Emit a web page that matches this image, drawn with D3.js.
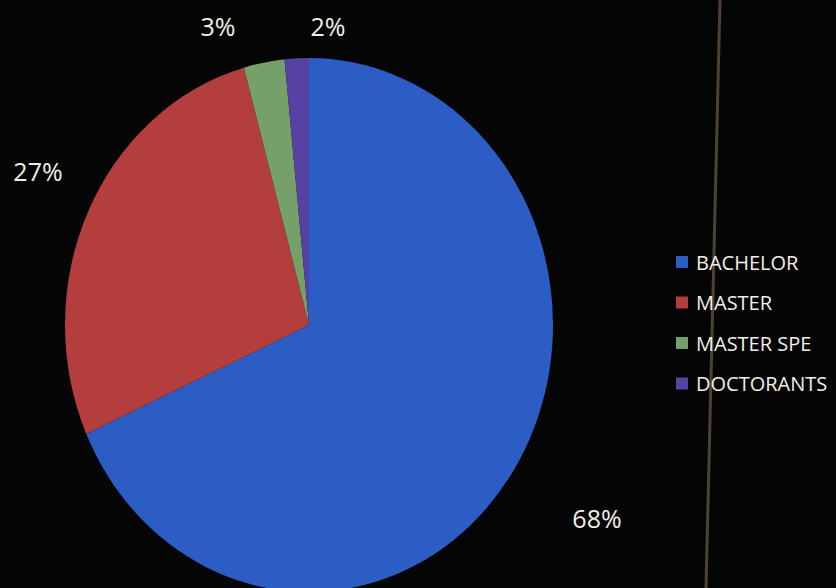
<!DOCTYPE html>
<html><head><meta charset="utf-8">
<script src="https://cdn.jsdelivr.net/npm/d3@7"></script>
<style>html,body{margin:0;padding:0;background:#050505;}svg{display:block;}</style>
</head><body>
<svg id="c" width="836" height="588"></svg>
<script>
const categories = ["BACHELOR", "MASTER", "MASTER SPE", "DOCTORANTS"];
const values = [68.3, 27.4, 2.7, 1.6];
const labels = ["68%", "27%", "3%", "2%"];
const colors = ["#2b5dc4", "#b43d3d", "#76a06a", "#5742a4"];

const svg = d3.select("#c");
svg.append("rect").attr("width", 836).attr("height", 588).attr("fill", "#050505");

// photo artifact vertical line
svg.append("line").attr("x1", 720).attr("y1", 0).attr("x2", 706).attr("y2", 588)
  .attr("stroke", "#4e4231").attr("stroke-width", 3);

const cx = 309, cy = 325, ry = 267, rx = 244;
const data = categories.map((c, i) => ({cat: c, v: values[i], label: labels[i], color: colors[i]}));
const pie = d3.pie().value(d => d.v).sort(null);
const arcs = pie(data);
const arc = d3.arc().innerRadius(0).outerRadius(ry);

const g = svg.append("g").attr("transform", `translate(${cx},${cy}) scale(${rx/ry},1)`);
g.selectAll("path").data(arcs).enter().append("path")
  .attr("d", arc).attr("fill", d => d.data.color);

const lp = [{x: 597, y: 518}, {x: 38, y: 171}, {x: 218, y: 26}, {x: 328, y: 26}];
svg.selectAll("text.lbl").data(arcs).enter().append("text").attr("class", "lbl")
  .attr("x", (d, i) => lp[i].x).attr("y", (d, i) => lp[i].y)
  .attr("text-anchor", "middle").attr("dominant-baseline", "central")
  .attr("font-family", "Open Sans, sans-serif").attr("font-size", 25)
  .attr("fill", "#f2efe6").text(d => d.data.label);

// legend
const leg = svg.append("g").attr("transform", "translate(676,262)");
const row = leg.selectAll("g").data(data).enter().append("g")
  .attr("transform", (d, i) => `translate(0,${i * 40.5})`);
row.append("rect").attr("x", 0).attr("y", -6).attr("width", 12).attr("height", 12).attr("fill", d => d.color);
row.append("text").attr("x", 20).attr("y", 0).attr("dominant-baseline", "central")
  .attr("font-family", "Open Sans, sans-serif").attr("font-size", 20)
  .attr("fill", "#f2efe6").text(d => d.cat);
</script>
</body></html>
